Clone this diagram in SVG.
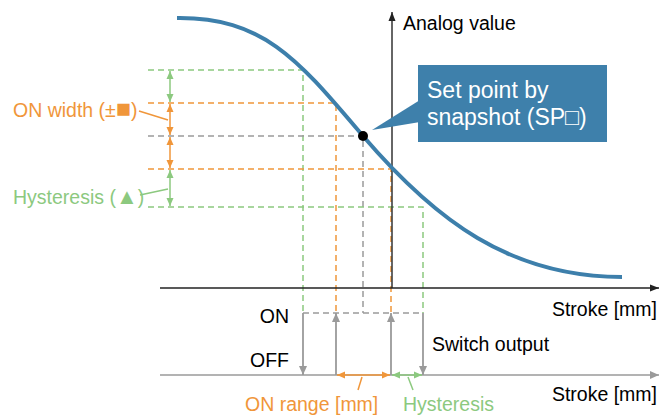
<svg xmlns="http://www.w3.org/2000/svg" width="671" height="416" viewBox="0 0 671 416">
<style>
text{font-family:"Liberation Sans",Arial,sans-serif;font-size:19.5px}
.k{fill:#000}
.o{fill:#f0963a}
.g{fill:#8cc97f}
.w{fill:#fff;font-size:23px}
.dg{stroke:#8cc97f;stroke-width:1.5;stroke-dasharray:6 4;fill:none}
.do{stroke:#f0963a;stroke-width:1.5;stroke-dasharray:6 4;fill:none}
.dy{stroke:#9a9a9a;stroke-width:1.5;stroke-dasharray:6 4;fill:none}
.sg{stroke:#8cc97f;stroke-width:1.5;fill:none}
.so{stroke:#f0963a;stroke-width:1.5;fill:none}
.sy{stroke:#9a9a9a;stroke-width:1.8;fill:none}
</style>
<defs>
<marker id="ag" markerUnits="userSpaceOnUse" markerWidth="8" markerHeight="8" refX="8" refY="4" orient="auto-start-reverse"><path d="M0,0.5 L8,4 L0,7.5z" fill="#8cc97f"/></marker>
<marker id="ao" markerUnits="userSpaceOnUse" markerWidth="8" markerHeight="8" refX="8" refY="4" orient="auto-start-reverse"><path d="M0,0.5 L8,4 L0,7.5z" fill="#f0963a"/></marker>
<marker id="ay" markerUnits="userSpaceOnUse" markerWidth="9" markerHeight="9" refX="9" refY="4.5" orient="auto-start-reverse"><path d="M0,0.5 L9,4.5 L0,8.5z" fill="#9a9a9a"/></marker>
<marker id="ak" markerUnits="userSpaceOnUse" markerWidth="9" markerHeight="9" refX="9" refY="4.5" orient="auto"><path d="M0,1 L9,4.5 L0,8z" fill="#222"/></marker>
</defs>
<g id="connectors">
<path class="dg" d="M148,70 H303 V313"/>
<path class="do" d="M148,103 H336 V313"/>
<path class="dy" d="M148,136 H363 V313"/>
<path class="do" d="M148,169 H391 V313"/>
<path class="dg" d="M148,207 H423 V313"/>
<path class="dy" d="M303,313 H423"/>
<path class="sg" d="M170,71 V102" marker-start="url(#ag)" marker-end="url(#ag)"/>
<path class="so" d="M170,104 V135" marker-start="url(#ao)" marker-end="url(#ao)"/>
<path class="so" d="M170,137 V168" marker-start="url(#ao)" marker-end="url(#ao)"/>
<path class="sg" d="M170,170 V206" marker-start="url(#ag)" marker-end="url(#ag)"/>
<path class="so" d="M139,111 L168,120"/>
<path class="sg" d="M140,195 L168,189"/>
<path d="M392,288 V12" stroke="#333" stroke-width="1.5" fill="none" marker-end="url(#ak)"/>
<path d="M160,288 H659" stroke="#222" stroke-width="1.5" fill="none" marker-end="url(#ak)"/>
<path d="M160,375 H659" stroke="#9a9a9a" stroke-width="1.5" fill="none" marker-end="url(#ay)"/>
<path class="sy" d="M303,313 V375" marker-end="url(#ay)"/>
<path class="sy" d="M336,375 V313" marker-end="url(#ay)"/>
<path class="sy" d="M391,375 V313" marker-end="url(#ay)"/>
<path class="sy" d="M423,313 V375" marker-end="url(#ay)"/>
<path class="so" d="M337,375 H390" marker-start="url(#ao)" marker-end="url(#ao)"/>
<path class="sg" d="M392,375 H422" marker-start="url(#ag)" marker-end="url(#ag)"/>
<path class="so" d="M362,377 L358,390"/>
<path class="sg" d="M408,377 L413,390"/>
</g>
<g id="curve">
<path d="M177,18 C265,17 300,62 363,136 C435,220 510,277 622,277" stroke="#3d7fab" stroke-width="4" fill="none"/>
<circle cx="363" cy="136" r="5" fill="#000"/>
</g>
<g id="callout">
<polygon points="372,130 420,100 420,122" fill="#3e80ab"/>
<rect x="418" y="65" width="189" height="77" fill="#3e80ab"/>
<text class="w" x="427" y="98">Set point by</text>
<text class="w" x="427" y="125">snapshot (SP□)</text>
</g>
<g id="labels">
<text class="k" x="403" y="30">Analog value</text>
<text class="o" x="13" y="117">ON width (±<tspan font-size="25">■</tspan>)</text>
<text class="g" x="13" y="204">Hysteresis (<tspan font-size="22">▲</tspan>)</text>
<text class="k" x="657" y="316" text-anchor="end">Stroke [mm]</text>
<text class="k" x="657" y="401" text-anchor="end">Stroke [mm]</text>
<text class="k" x="289" y="323" text-anchor="end">ON</text>
<text class="k" x="289" y="367" text-anchor="end">OFF</text>
<text class="k" x="432" y="351">Switch output</text>
<text class="o" x="245" y="411">ON range [mm]</text>
<text class="g" x="403" y="411">Hysteresis</text>
</g>
</svg>
